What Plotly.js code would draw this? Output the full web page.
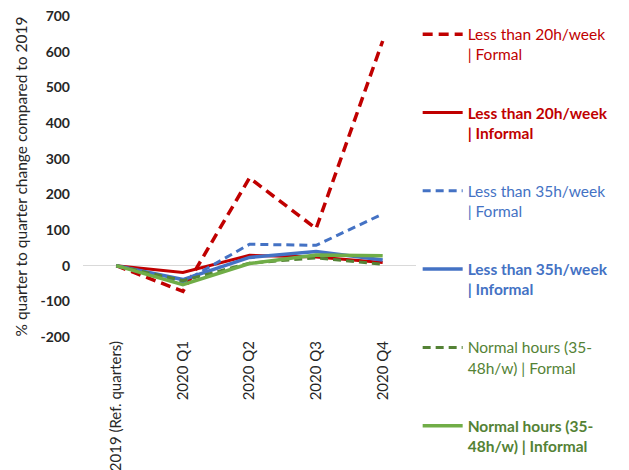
<!DOCTYPE html>
<html>
<head>
<meta charset="utf-8">
<script src="https://cdn.plot.ly/plotly-3.0.1.min.js"></script>
<style>html,body{margin:0;padding:0;background:#fff;}#chart{width:629px;height:470px;}</style>
</head>
<body>
<div id="chart"></div>
<script>
const categories = ["2019 (Ref. quarters)", "2020 Q1", "2020 Q2", "2020 Q3", "2020 Q4"];
const seriesNameLines = [
  ["Less than 20h/week", "| Formal"],
  ["Less than 20h/week", "| Informal"],
  ["Less than 35h/week", "| Formal"],
  ["Less than 35h/week", "| Informal"],
  ["Normal hours (35-", "48h/w) | Formal"],
  ["Normal hours (35-", "48h/w) | Informal"]
];
const lt20Formal   = [0, -72, 246, 104, 630];
const lt20Informal = [0, -19, 29, 24, 9];
const lt35Formal   = [0, -46, 60, 57, 145];
const lt35Informal = [0, -39, 23, 40, 16];
const normFormal   = [0, -42, 7, 22, 4];
const normInformal = [0, -53, 6, 30, 28];
const yTicks = [-200, -100, 0, 100, 200, 300, 400, 500, 600, 700];

const seriesValues = [lt20Formal, lt20Informal, lt35Formal, lt35Informal, normFormal, normInformal];
const colors = ["#C00000", "#C00000", "#4472C4", "#4472C4", "#548235", "#70AD47"];
const textColors = ["#C00000", "#C00000", "#4472C4", "#4472C4", "#548235", "#548235"];
const dashes = ["10px,6px", "solid", "8px,5px", "solid", "8px,5px", "solid"];
const widths = [3.5, 3, 3, 3.5, 3, 3.5];
const bold = [false, true, false, true, false, true];

function legendLabel(i) {
  return seriesNameLines[i].map(line => {
    const t = bold[i] ? "<b>" + line + "</b>" : line;
    return '<span style="color:' + textColors[i] + '">' + t + "</span>";
  }).join("<br>");
}

const traces = seriesValues.map((vals, i) => ({
  type: "scatter",
  mode: "lines",
  x: categories,
  y: vals,
  name: legendLabel(i),
  legendgroup: "g" + i,
  line: {color: colors[i], width: widths[i], dash: dashes[i]},
  hoverinfo: "skip"
}));

const layout = {
  width: 629, height: 470,
  margin: {l: 83, r: 213, t: 16, b: 133},
  paper_bgcolor: "#fff", plot_bgcolor: "#fff",
  font: {family: "Lato, 'Open Sans', sans-serif", color: "#262626"},
  showlegend: true,
  legend: {
    x: 1.005, xanchor: "left", y: 0.995, yanchor: "top",
    valign: "top",
    maxheight: 470,
    font: {size: 15.5, family: "Lato, sans-serif"},
    tracegroupgap: 35,
    itemwidth: 40
  },
  xaxis: {
    type: "category",
    range: [-0.5, 4.5],
    showgrid: false, zeroline: false, showline: false,
    ticks: "",
    tickangle: -90,
    tickfont: {size: 15, color: "#262626"}
  },
  yaxis: {
    range: [-200, 700],
    tickvals: yTicks,
    ticktext: yTicks.map(String),
    showgrid: false,
    zeroline: true, zerolinecolor: "#D9D9D9", zerolinewidth: 1.5,
    showline: false, ticks: "",
    ticklabelstandoff: 12,
    tickfont: {size: 14, color: "#262626", weight: "bold"},
    title: {text: "% quarter to quarter change compared to 2019", font: {size: 15.5, color: "#262626"}, standoff: 8}
  }
};

Plotly.newPlot("chart", traces, layout, {displayModeBar: false, staticPlot: true});
</script>
</body>
</html>
